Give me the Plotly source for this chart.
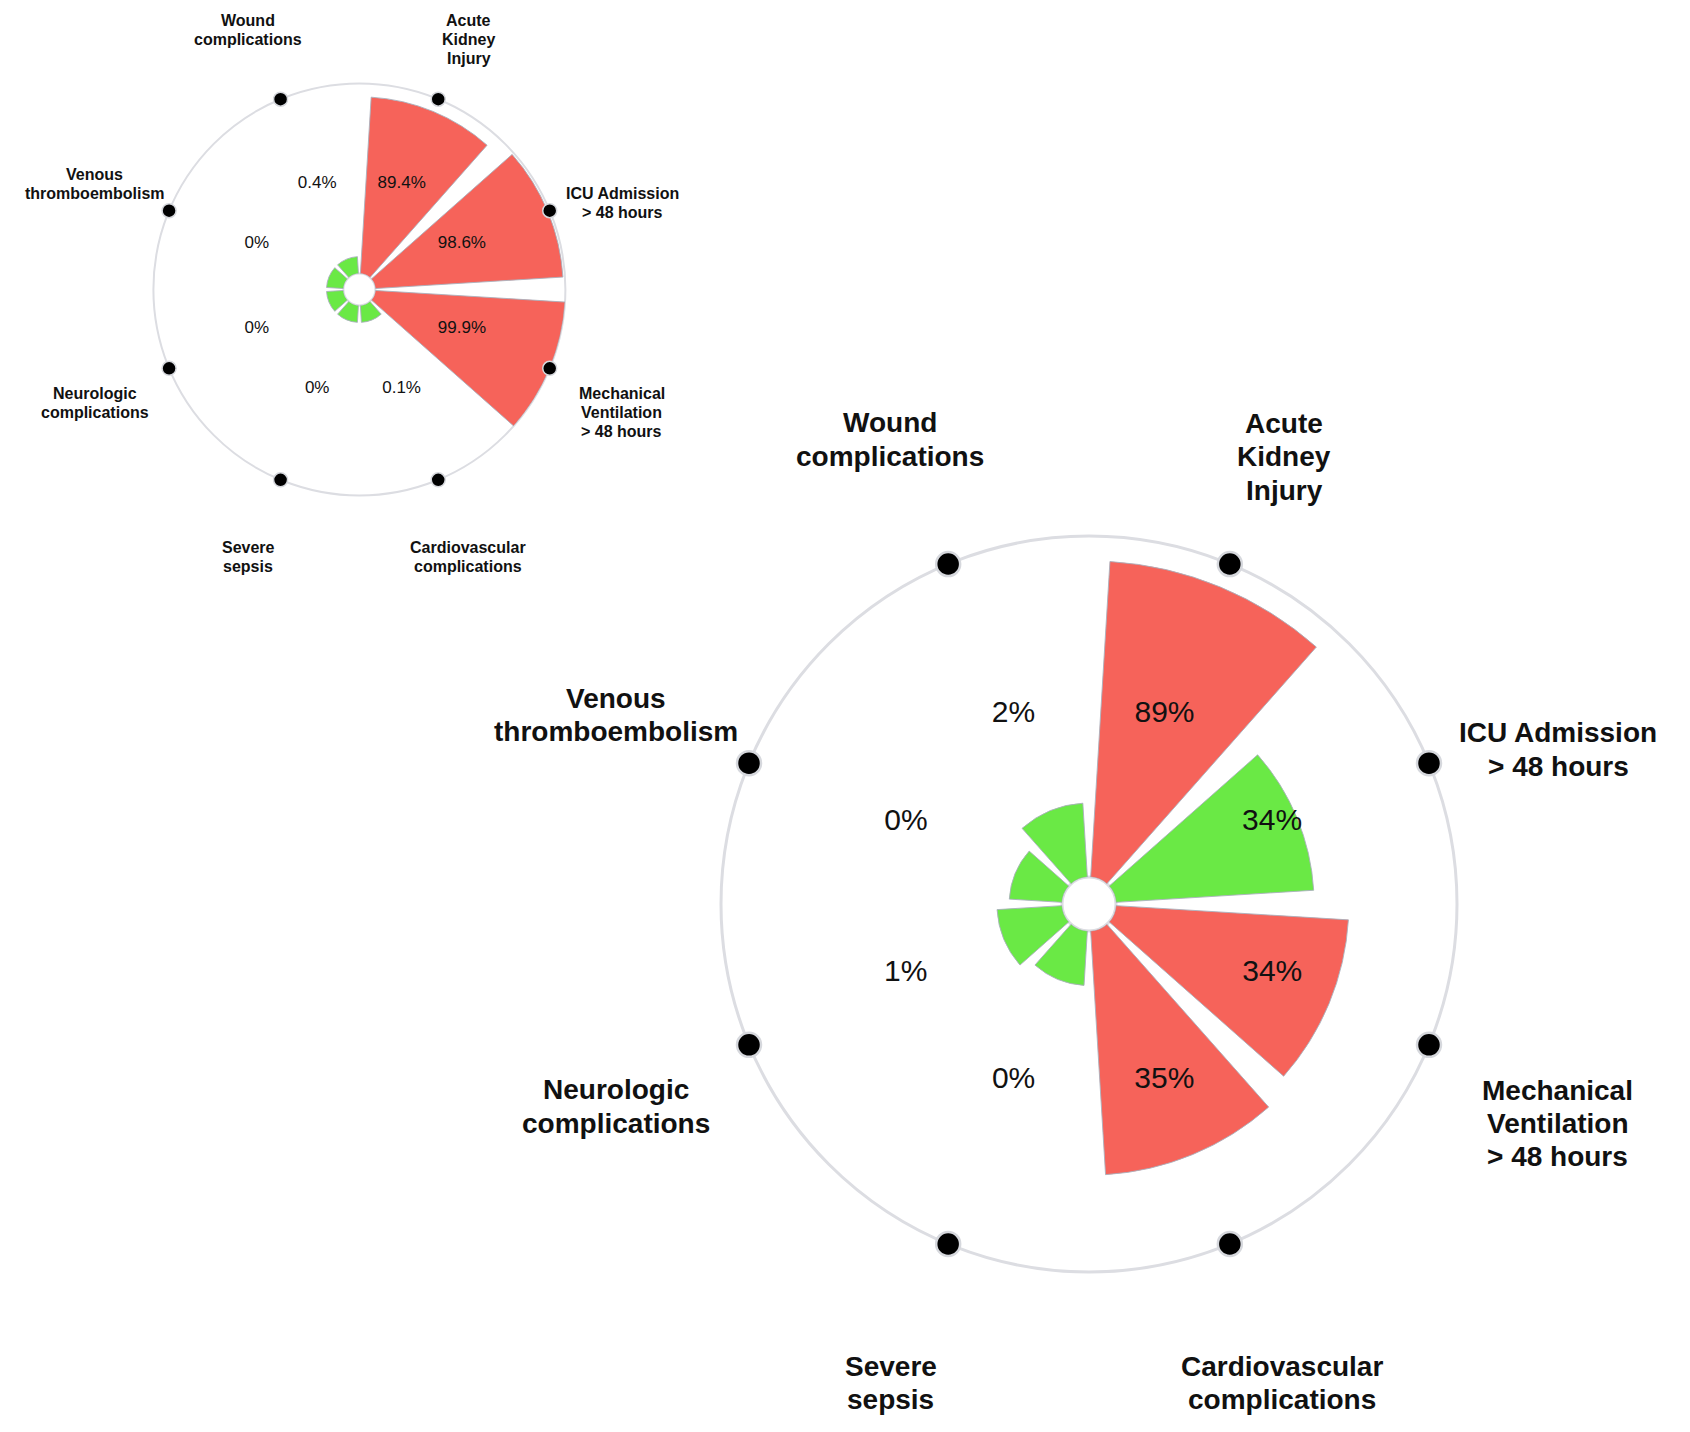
import math
import plotly.graph_objects as go

# ---------------- data ----------------
categories = [
    "Acute<br>Kidney<br>Injury",
    "ICU Admission<br>> 48 hours",
    "Mechanical<br>Ventilation<br>> 48 hours",
    "Cardiovascular<br>complications",
    "Severe<br>sepsis",
    "Neurologic<br>complications",
    "Venous<br>thromboembolism",
    "Wound<br>complications",
]
category_angles = [22.5, 67.5, 112.5, 157.5, 202.5, 247.5, 292.5, 337.5]

# small (top-left) chart: bar lengths on a 0-100 radial scale (outer circle = 100)
small_values = [93.0, 98.9, 100.0, 8.9, 8.9, 8.9, 8.9, 8.9]
small_groups = ["red", "red", "red", "green", "green", "green", "green", "green"]
small_labels = ["89.4%", "98.6%", "99.9%", "0.1%", "0%", "0%", "0%", "0.4%"]

# large (bottom-right) chart
big_values = [92.7, 58.1, 68.3, 71.6, 16.0, 19.1, 15.5, 21.7]
big_groups = ["red", "green", "red", "red", "green", "green", "green", "green"]
big_labels = ["89%", "34%", "34%", "35%", "0%", "1%", "0%", "2%"]

# ---------------- styling / layout config ----------------
COLORS = {"red": "#F6635A", "green": "#6AE945"}
FONT = "Liberation Sans, Arial, Helvetica, sans-serif"
# category label placement: distance in units of the outer-circle radius, and angle
LABEL_REL = [1.326, 1.343, 1.406, 1.403, 1.408, 1.397, 1.383, 1.373]
LABEL_THETA = [23.6, 71.8, 115.1, 158.0, 202.5, 246.8, 291.8, 336.8]
LINE_SPACING = 1.19   # line height relative to font size
# percent label placement (same units)
PCT_REL = [0.555, 0.545, 0.533, 0.522, 0.522, 0.533, 0.545, 0.555]
PCT_THETA = [21.7, 65.9, 110.9, 156.9, 203.1, 249.1, 294.1, 338.3]

W, H, OFF = 1674, 1416, 8   # figure size; page body margin

charts = [
    dict(name="polar", values=small_values, groups=small_groups, labels=small_labels,
         cx=359.4, cy=289.5, R=206, hole_px=16,
         cat_size=16, pct_size=17, dot=14, line_w=2, dot_line=1.5),
    dict(name="polar2", values=big_values, groups=big_groups, labels=big_labels,
         cx=1089, cy=904, R=368, hole_px=27,
         cat_size=28, pct_size=30, dot=24, line_w=3, dot_line=2.5),
]

fig = go.Figure()
layout_polars = {}
annotations = []
for ch in charts:
    sub = ch["name"]
    cx, cy, R, hp = ch["cx"] - OFF, ch["cy"] - OFF, ch["R"], ch["hole_px"]
    fig.add_trace(go.Barpolar(
        r=ch["values"], theta=category_angles, width=38,
        marker=dict(color=[COLORS[g] for g in ch["groups"]],
                    line=dict(color="rgba(170,176,188,0.9)", width=1)),
        subplot=sub, hoverinfo="skip", showlegend=False,
    ))
    pct_r = [(rel * R - hp) / (R - hp) * 100 for rel in PCT_REL]
    fig.add_trace(go.Scatterpolar(
        r=pct_r, theta=PCT_THETA, mode="text",
        text=ch["labels"], textposition="middle center",
        textfont=dict(family=FONT, size=ch["pct_size"], color="#111111"),
        subplot=sub, hoverinfo="skip", showlegend=False, cliponaxis=False,
    ))
    fig.add_trace(go.Scatterpolar(
        r=[100] * len(category_angles), theta=category_angles, mode="markers",
        marker=dict(color="black", size=ch["dot"],
                    line=dict(color="#d6d8dd", width=ch["dot_line"])),
        subplot=sub, hoverinfo="skip", showlegend=False, cliponaxis=False,
    ))
    layout_polars[sub] = dict(
        domain=dict(x=[(cx - R) / W, (cx + R) / W],
                    y=[1 - (cy + R) / H, 1 - (cy - R) / H]),
        hole=hp / R,
        bgcolor="white",
        radialaxis=dict(range=[0, 100], visible=False, showgrid=False),
        angularaxis=dict(rotation=90, direction="clockwise", thetaunit="degrees",
                         showline=True, linecolor="#dcdde2", linewidth=ch["line_w"],
                         layer="below traces",
                         showgrid=False, showticklabels=False, ticks=""),
    )
    ls = LINE_SPACING * ch["cat_size"]
    for txt, rel, th in zip(categories, LABEL_REL, LABEL_THETA):
        a = math.radians(th)
        x = cx + rel * R * math.sin(a)
        y = cy - rel * R * math.cos(a)
        lines = txt.split("<br>")
        n = len(lines)
        for i, line in enumerate(lines):
            yi = y + (i - (n - 1) / 2) * ls
            annotations.append(dict(
                text=line, x=x / W, y=1 - yi / H, xref="paper", yref="paper",
                xanchor="center", yanchor="middle", showarrow=False, align="center",
                font=dict(family=FONT, size=ch["cat_size"], color="#111111", weight="bold"),
            ))

fig.update_layout(
    width=W, height=H,
    margin=dict(l=0, r=0, t=0, b=0),
    paper_bgcolor="white", plot_bgcolor="white",
    showlegend=False,
    annotations=annotations,
    **layout_polars,
)

fig.write_html("out.html")
